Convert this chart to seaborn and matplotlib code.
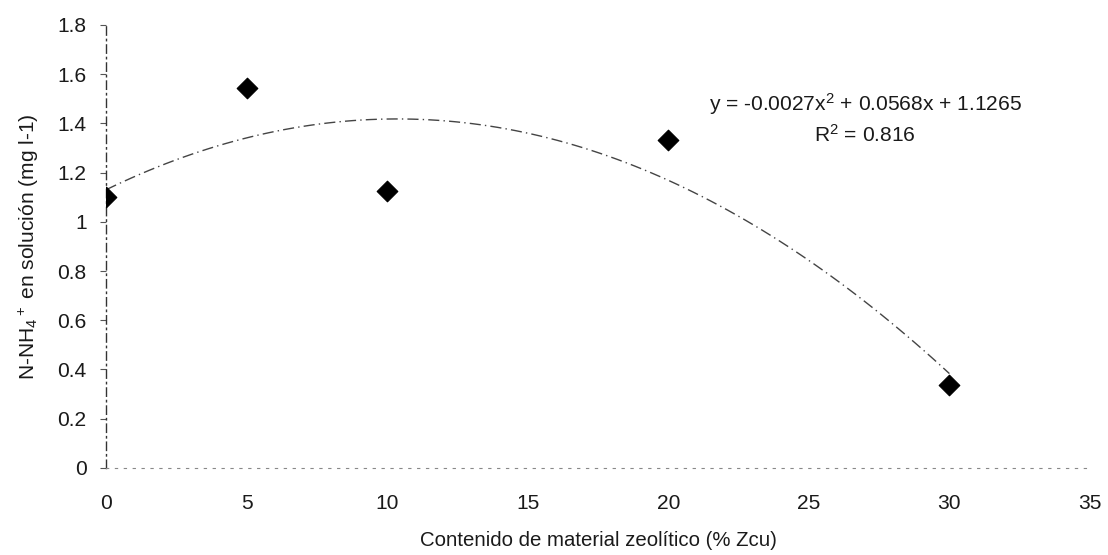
import matplotlib
matplotlib.use("Agg")
import matplotlib.pyplot as plt
from matplotlib import font_manager
import seaborn as sns
import pandas as pd

zeolita = [0, 5, 10, 20, 30]
nh4 = [1.10, 1.545, 1.126, 1.333, 0.337]
eq_text = "y = -0.0027x$^2$ + 0.0568x + 1.1265"
r2_text = "R$^2$ = 0.816"
xticks = [0, 5, 10, 15, 20, 25, 30, 35]
yticks = [0, 0.2, 0.4, 0.6, 0.8, 1.0, 1.2, 1.4, 1.6, 1.8]
ytick_labels = ["0", "0.2", "0.4", "0.6", "0.8", "1", "1.2", "1.4", "1.6", "1.8"]

names = {f.name for f in font_manager.fontManager.ttflist}
if "Liberation Sans Narrow" in names:
    fam = "Liberation Sans Narrow"
    k = 1.0
else:
    fam = "Liberation Sans"
    k = 0.84

sns.set_theme(style="white")
plt.rcParams['font.family'] = [fam, 'DejaVu Sans']
plt.rcParams['mathtext.fontset'] = 'custom'
plt.rcParams['mathtext.rm'] = fam
plt.rcParams['mathtext.it'] = fam

df = pd.DataFrame({"x": zeolita, "y": nh4})

fig = plt.figure(figsize=(11.08, 5.55), dpi=100)
ax = fig.add_axes([0.0957, 0.157, 0.888, 0.798])

sns.regplot(data=df, x="x", y="y", order=2, ci=None, scatter=False, ax=ax,
            line_kws=dict(color="#444444", lw=1.0, ls=(0, (8, 3, 1, 3))))
sns.scatterplot(data=df, x="x", y="y", marker="D", s=110, color="black",
                edgecolor="black", ax=ax, zorder=5)

ax.set_xlim(0, 35)
ax.set_ylim(0, 1.8)
ax.set_xticks(xticks)
ax.set_xticklabels([str(t) for t in xticks])
ax.set_yticks(yticks)
ax.set_yticklabels(ytick_labels)
ts = 18 * k
ax.tick_params(axis="x", length=0, pad=19, labelsize=ts, colors="#1a1a1a")
ax.tick_params(axis="y", length=4, width=0.8, color="#555555", direction="out",
               left=True, pad=10, labelsize=ts, labelcolor="#1a1a1a")

for s in ["top", "right"]:
    ax.spines[s].set_visible(False)
ax.spines["left"].set_color("#333333")
ax.spines["left"].set_linewidth(1.0)
ax.spines["left"].set_linestyle((0, (6, 3, 1, 3)))
ax.spines["bottom"].set_color("#888888")
ax.spines["bottom"].set_linewidth(0.8)
ax.spines["bottom"].set_linestyle((0, (2, 6)))

ax.set_xlabel("Contenido de material zeolítico (% Zcu)", fontsize=17.5 * k,
              labelpad=13, color="#1a1a1a")
ax.set_ylabel("N-NH$_4$$^+$ en solución (mg l-1)", fontsize=18 * k,
              labelpad=12, color="#1a1a1a")

ax.text(27.0, 1.48, eq_text, ha="center", va="center", fontsize=18 * k, color="#1a1a1a")
ax.text(27.0, 1.355, r2_text, ha="center", va="center", fontsize=18 * k, color="#1a1a1a")

fig.savefig("out.png", dpi=100)
